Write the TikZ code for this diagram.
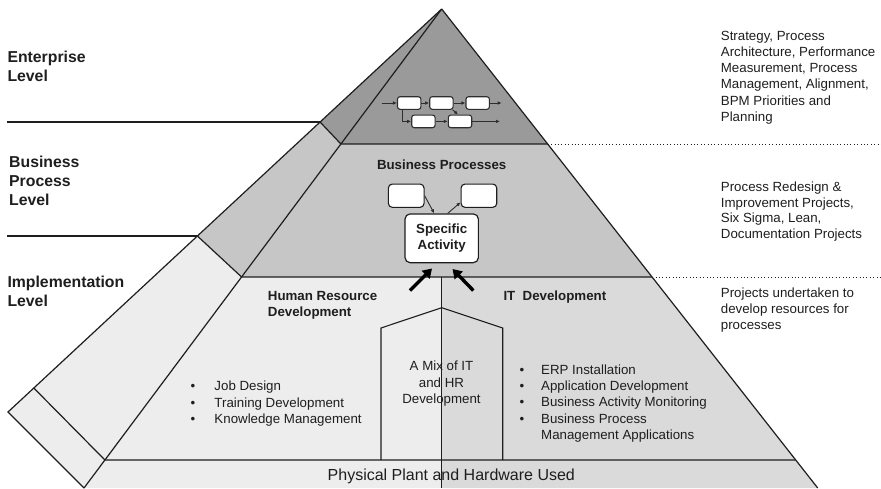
\documentclass[tikz,border=0pt]{standalone}
\usepackage{fontspec}
\setmainfont{Liberation Sans}
\usetikzlibrary{arrows.meta,calc}

\definecolor{topgray}{HTML}{9A9A9A}
\definecolor{midgray}{HTML}{C5C6C5}
\definecolor{palegray}{HTML}{ECEDEC}
\definecolor{itgray}{HTML}{DADADA}
\definecolor{ink}{HTML}{1E1E1E}
\definecolor{flowink}{HTML}{2E2E2E}

% bullet in a box of fixed width
\newcommand\blt[1]{\makebox[#1][l]{•}}

\tikzset{
  edge/.style={draw=ink, line width=1.2pt, line join=miter},
  guide/.style={draw=ink, line width=1.1pt},
  dotline/.style={draw=ink, line width=0.9pt, dash pattern=on 1.1pt off 2.3pt},
  lvl/.style={font=\fontsize{15.8}{19.4}\selectfont\bfseries, align=left, inner sep=0pt, text=ink},
  body/.style={font=\fontsize{13.3}{16.3}\selectfont, align=left, inner sep=0pt, text=ink},
  hdr/.style={font=\fontsize{13.3}{16}\selectfont\bfseries, align=left, inner sep=0pt, text=ink},
  pbox/.style={draw=flowink, fill=white, line width=1.1pt, rounded corners=2.5pt,
    minimum width=23.4pt, minimum height=12.6pt, inner sep=0pt},
  bbox/.style={draw=ink, fill=white, line width=1.1pt, rounded corners=4pt,
    minimum width=35.7pt, minimum height=23.3pt, inner sep=0pt},
  sabox/.style={draw=ink, fill=white, line width=1.2pt, rounded corners=5pt,
    minimum width=73.3pt, minimum height=48.7pt, inner sep=0pt,
    font=\fontsize{13.3}{16.5}\selectfont\bfseries, align=center, text=ink},
  flow/.style={draw=flowink, line width=0.9pt, -{Latex[length=4pt,width=3.6pt]}},
  bigarrow/.style={draw=black, line width=3.4pt, -{Triangle[length=9pt,width=11pt]}},
}

\begin{document}
\begin{tikzpicture}[x=1pt,y=-1pt]
\useasboundingbox (0,0) rectangle (881,488);

% ---- key points of the pyramid ----
\coordinate (apex) at (441.7,9);
% outer edge of the side face
\coordinate (ol1) at (320.1,122);
\coordinate (ol2) at (197.4,236);
\coordinate (ol3) at (33.8,388);
\coordinate (ol4) at (8,412);
% left edge of the front face
\coordinate (fl1) at (340.9,144);
\coordinate (fl2) at (241.6,277);
\coordinate (fl3) at (104.9,460);
\coordinate (fl4) at (84,488);
% right edge of the front face
\coordinate (fr1) at (547.7,144);
\coordinate (fr2) at (652.1,277);
\coordinate (fr3) at (795.7,460);
\coordinate (fr4) at (817.7,488);
% centre divider
\coordinate (m2) at (441.7,277);
\coordinate (m3) at (441.7,460);
\coordinate (m4) at (441.7,488);

% ---- fills ----
\fill[topgray] (apex) -- (ol1) -- (fl1) -- cycle;
\fill[midgray] (ol1) -- (ol2) -- (fl2) -- (fl1) -- cycle;
\fill[palegray] (ol2) -- (ol3) -- (fl3) -- (fl2) -- cycle;
\fill[palegray] (ol3) -- (ol4) -- (fl4) -- (fl3) -- cycle;
\fill[topgray] (apex) -- (fl1) -- (fr1) -- cycle;
\fill[midgray] (fl1) -- (fl2) -- (fr2) -- (fr1) -- cycle;
\fill[palegray] (fl2) -- (fl3) -- (m3) -- (m2) -- cycle;
\fill[itgray] (m2) -- (m3) -- (fr3) -- (fr2) -- cycle;
\fill[palegray] (fl3) -- (fl4) -- (m4) -- (m3) -- cycle;
\fill[itgray] (m3) -- (m4) -- (fr4) -- (fr3) -- cycle;

% ---- outline ----
\draw[edge] (apex) -- (ol4) -- (fl4);
\draw[edge] (apex) -- (fl4);
\draw[edge] (apex) -- (fr4);
\draw[edge] (ol1) -- (fl1) -- (fr1);
\draw[edge] (ol2) -- (fl2) -- (fr2);
\draw[edge] (ol3) -- (fl3) -- (fr3);
\draw[edge] (m2) -- (m4);

% mixed IT / HR area
\coordinate (mx1) at (381,460);
\coordinate (mx2) at (381,328);
\coordinate (mx3) at (441.7,307.7);
\coordinate (mx4) at (502.7,328);
\coordinate (mx5) at (502.7,460);
\draw[edge, line width=1.1pt] (mx1) -- (mx2) -- (mx3) -- (mx4) -- (mx5);

% level guide lines
\coordinate (g1) at (7,122);
\coordinate (g2) at (7,236);
\draw[guide] (g1) -- (ol1);
\draw[guide] (g2) -- (ol2);
\coordinate (d1) at (881,144);
\coordinate (d2) at (881,277);
\draw[dotline] (fr1) -- (d1);
\draw[dotline] (fr2) -- (d2);

% ---- level labels (base = baseline of the last line) ----
\node[lvl, anchor=base west] (lvE) at (7.3,81.9) {Enterprise\\Level};
\node[lvl, anchor=base west] (lvB) at (9,205.8) {Business\\Process\\Level};
\node[lvl, anchor=base west] (lvI) at (7.3,306.4) {Implementation\\Level};

% ---- descriptions on the right ----
\node[body, anchor=base west] (dE) at (720.7,121.5)
  {Strategy, Process\\Architecture, Performance\\Measurement, Process\\Management, Alignment,\\BPM Priorities and\\Planning};
\node[body, anchor=base west, font=\fontsize{13.3}{15.8}\selectfont] (dB) at (720.7,238.7)
  {Process Redesign \&\\Improvement Projects,\\Six Sigma, Lean,\\Documentation Projects};
\node[body, anchor=base west, font=\fontsize{13.3}{16}\selectfont] (dI) at (720.7,329.7)
  {Projects undertaken to\\develop resources for\\processes};

% ---- enterprise process flow ----
\node[pbox] (p1) at (409.2,103) {};
\node[pbox] (p2) at (441.4,103) {};
\node[pbox] (p3) at (477.7,103) {};
\node[pbox] (p4) at (423.4,121.4) {};
\node[pbox] (p5) at (460,121.4) {};
\coordinate (pin) at (381.7,103);
\coordinate (pout1) at (501.7,103);
\coordinate (pout2) at (500,121.4);
\draw[flow] (pin) -- (p1);
\draw[flow] (p1) -- (p2);
\draw[flow] (p2) -- (p3);
\draw[flow] (p3) -- (pout1);
\draw[flow] ([xshift=-6.5pt]p1.south) |- (p4.west);
\draw[flow] (p4) -- (p5);
\draw[flow] (p5) -- (pout2);
\draw[flow] ([xshift=-1pt]p2.south east) -- ([xshift=-2pt]p5.north);

% ---- business processes ----
\node[hdr, anchor=base] (bp) at (441.7,169) {Business Processes};
\node[bbox] (b1) at (406.2,195.7) {};
\node[bbox] (b2) at (478.9,195.7) {};
\node[sabox] (sa) at (441.7,238.3) {Specific\\Activity};
\draw[flow] (b1.east) -- ([xshift=-7.5pt]sa.north);
\draw[flow] ([xshift=6pt]sa.north) -- (b2.200);

% ---- development feeding the activity ----
\coordinate (hrtail) at (410,290.5);
\coordinate (hrtip) at (432,268.5);
\coordinate (ittail) at (473.3,290.5);
\coordinate (ittip) at (452.5,269);
\draw[bigarrow] (hrtail) -- (hrtip);
\draw[bigarrow] (ittail) -- (ittip);

\node[hdr, anchor=base west] (hr) at (267.7,316) {Human Resource\\Development};
\node[hdr, anchor=base west] (it) at (503.3,300) {IT~~Development};

\node[body, anchor=base west, font=\fontsize{13.3}{16.3}\selectfont] (hrlist) at (190.4,423.3)
  {\blt{23.9pt}Job Design\\\blt{23.9pt}Training Development\\\blt{23.9pt}Knowledge Management};
\node[body, anchor=base west, font=\fontsize{13.3}{16.25}\selectfont] (itlist) at (519.4,439.3)
  {\blt{21.6pt}ERP Installation\\\blt{21.6pt}Application Development\\\blt{21.6pt}Business Activity Monitoring\\\blt{21.6pt}Business Process\\\hspace*{21.6pt}Management Applications};

\node[body, align=center, anchor=base] (mix) at (441.5,403.5)
  {A Mix of IT\\and HR\\Development};

\node[font=\fontsize{16}{19}\selectfont, text=ink, inner sep=0pt, anchor=base] (phys) at (451.3,480.7)
  {Physical Plant and Hardware Used};
\end{tikzpicture}
\end{document}
